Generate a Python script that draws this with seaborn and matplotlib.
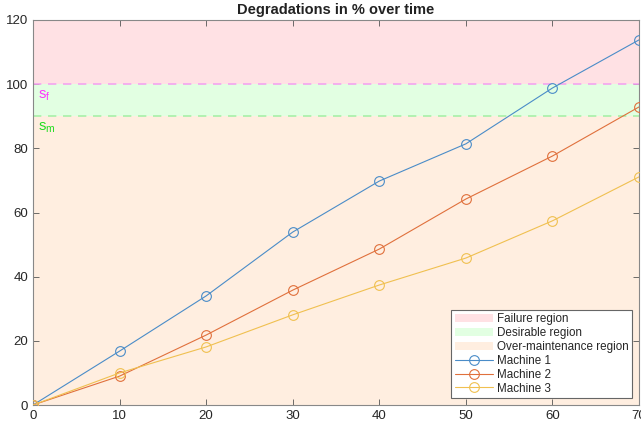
import pandas as pd
import matplotlib.pyplot as plt
import seaborn as sns
from matplotlib.patches import Patch
from matplotlib.lines import Line2D

# data
time = [0, 10, 20, 30, 40, 50, 60, 70]
machine_1 = [0, 16.8, 34.0, 53.9, 69.8, 81.4, 98.8, 113.8]
machine_2 = [0, 9.0, 21.8, 35.8, 48.6, 64.2, 77.6, 92.9]
machine_3 = [0, 10.0, 18.1, 28.1, 37.4, 45.8, 57.4, 71.1]
machines = ['Machine 1', 'Machine 2', 'Machine 3']
s_f = 100
s_m = 90

colors = ['#4A8CC8', '#E0703C', '#F0C050']
region_colors = {'Failure region': '#FFE1E4',
                 'Desirable region': '#E2FFE2',
                 'Over-maintenance region': '#FFEEE0'}

df = pd.DataFrame({
    'Time': time * 3,
    'Degradation': machine_1 + machine_2 + machine_3,
    'Machine': [m for m in machines for _ in time],
})

sns.set_style("ticks")
plt.rcParams['font.family'] = ['Liberation Sans', 'DejaVu Sans']

fig = plt.figure(figsize=(6.41, 4.28), dpi=100)
ax = fig.add_axes([33 / 641, 23 / 428, 606 / 641, 385 / 428])

# background regions
ax.axhspan(s_f, 120, color=region_colors['Failure region'], lw=0, zorder=0)
ax.axhspan(s_m, s_f, color=region_colors['Desirable region'], lw=0, zorder=0)
ax.axhspan(0, s_m, color=region_colors['Over-maintenance region'], lw=0, zorder=0)
ax.axhline(s_f, color='#F4A4F0', ls=(0, (5, 4)), lw=1.2, zorder=1)
ax.axhline(s_m, color='#A8F0A8', ls=(0, (5, 4)), lw=1.2, zorder=1)
ax.text(0.6, 96.5, r'$\mathregular{s_f}$', color='#FF33FF', fontsize=10.5, va='center')
ax.text(0.6, 86.5, r'$\mathregular{s_m}$', color='#22DD22', fontsize=10.5, va='center')

sns.lineplot(data=df, x='Time', y='Degradation', hue='Machine', palette=colors,
             marker='o', markersize=7, lw=0.8, ax=ax, legend=False, zorder=3)
for ln in ax.get_lines()[2:]:
    ln.set_markerfacecolor('none')
    ln.set_markeredgecolor(ln.get_color())
    ln.set_markeredgewidth(0.8)

ax.set_xlim(0, 70)
ax.set_ylim(0, 120)
ax.set_xticks(range(0, 71, 10))
ax.set_yticks(range(0, 121, 20))
ax.set_xlabel('')
ax.set_ylabel('')
ax.set_title('Degradations in % over time', fontsize=10.5, fontweight='bold',
             color='#222222', pad=4)
ax.tick_params(direction='in', length=4, width=0.6, colors='#555555',
               labelcolor='#262626', labelsize=9.5, top=True, right=True)
for s in ax.spines.values():
    s.set_color('#888888')
    s.set_linewidth(0.8)

handles = [Patch(facecolor=c, edgecolor='none', label=k) for k, c in region_colors.items()]
handles += [Line2D([], [], color=c, lw=0.8, marker='o', markersize=7,
                   markerfacecolor='none', markeredgewidth=0.8, label=m)
            for c, m in zip(colors, machines)]
leg = ax.legend(handles=handles, loc='lower right', fontsize=8.4, frameon=True,
                fancybox=False, borderaxespad=0.6, handlelength=3.3,
                handletextpad=0.3, labelspacing=0.16, borderpad=0.3)
leg.get_frame().set_edgecolor('#666666')
leg.get_frame().set_linewidth(0.8)
leg.get_frame().set_alpha(1)
for t in leg.get_texts():
    t.set_color('#262626')

fig.savefig('out.png', dpi=100)
